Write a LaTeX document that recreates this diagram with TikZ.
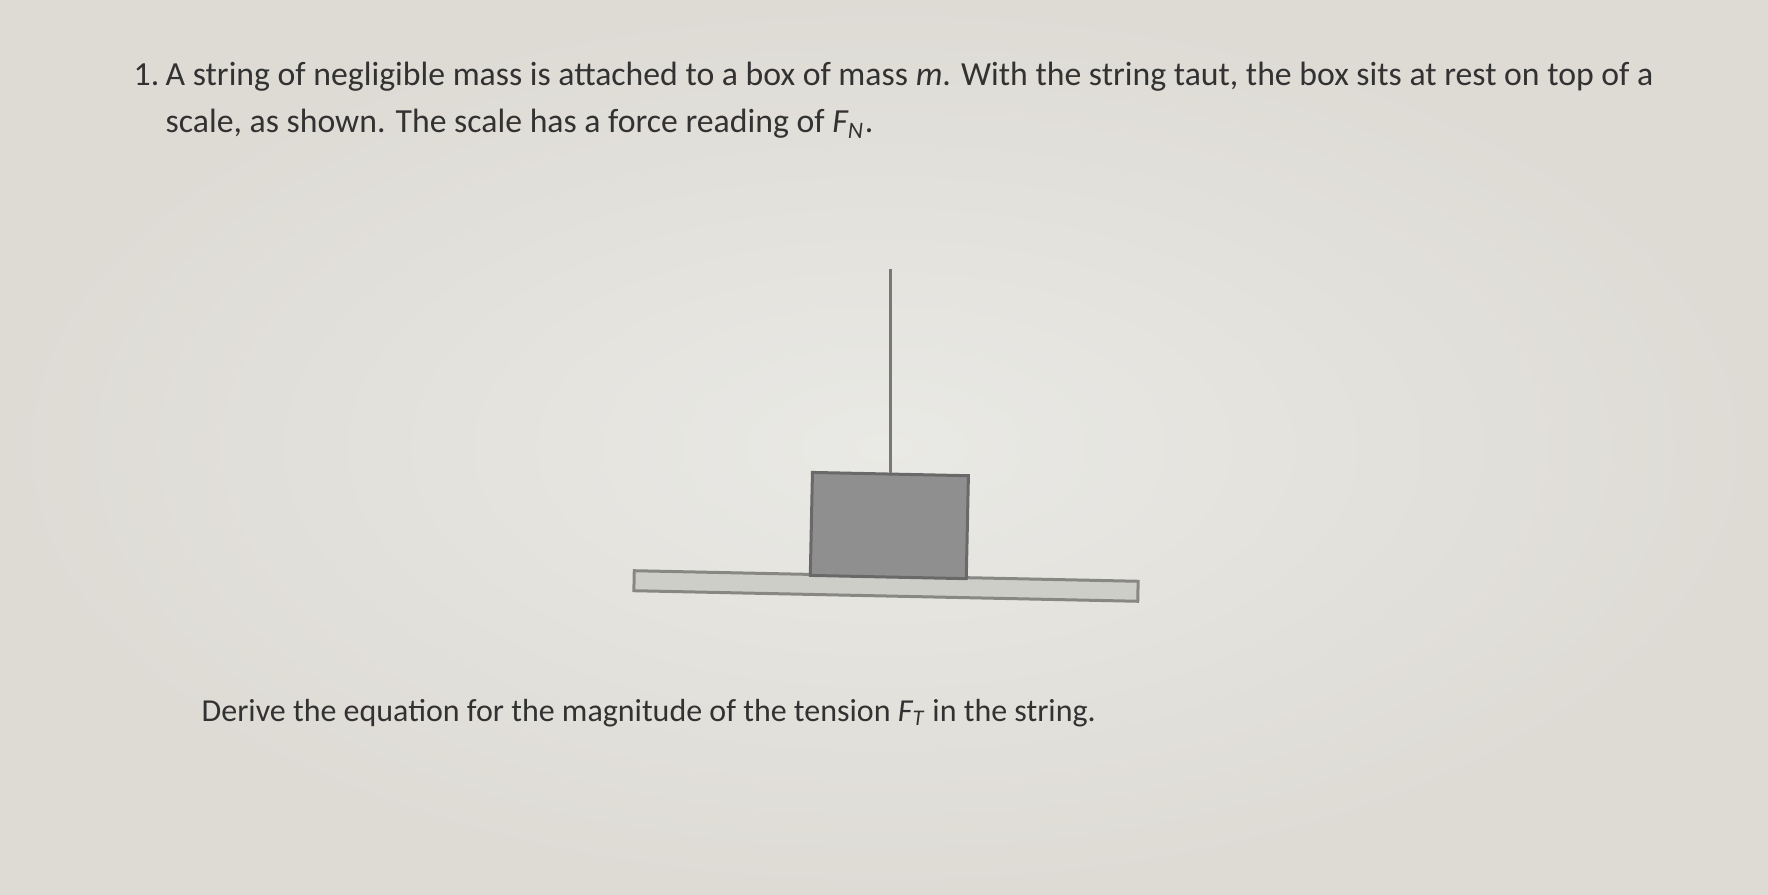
\documentclass[tikz,border=0pt]{standalone}
\usepackage{fontspec}
\setmainfont{Carlito}
\usetikzlibrary{positioning}

\definecolor{paper}{RGB}{233,233,229}
\definecolor{paperedge}{RGB}{222,219,213}
\definecolor{ink}{RGB}{50,50,50}
\definecolor{boxgrey}{RGB}{143,143,143}
\definecolor{boxedge}{RGB}{105,105,105}
\definecolor{scalegrey}{RGB}{206,206,201}
\definecolor{scaleedge}{RGB}{135,135,132}

\tikzset{
  textline/.style={anchor=base west, inner sep=0pt, text=ink, font=\fontsize{9.6}{11}\selectfont},
  massbox/.style={draw=boxedge, fill=boxgrey, line width=0.3mm, inner sep=0pt},
  scalebar/.style={draw=scaleedge, fill=scalegrey, line width=0.3mm, inner sep=0pt},
  stringline/.style={draw=boxedge!90, line width=0.3mm}
}

\begin{document}
\begin{tikzpicture}[x=0.1mm, y=-0.1mm]
                    \shade[inner color=paper, outer color=paperedge] (0,0) rectangle (1768,895);
                    \useasboundingbox (0,0) rectangle (1768,895);

                    % question text
                    \node[textline](qnum) at (133,86) {1.};
                    \node[textline](lineone) at (165,86) {A string of negligible mass is attached to a box of mass \textit{m}. With the string taut, the box sits at rest on top of a};
                    \node[textline](linetwo) at (165,133) {scale, as shown. The scale has a force reading of \textit{F\textsubscript{N}}.};
                    \node[textline, font=\fontsize{9.1}{11}\selectfont](linethree) at (201,722) {Derive the equation for the magnitude of the tension \textit{F\textsubscript{T}} in the string.};

                    % scale, box and string
                    \node[scalebar, minimum width=50.4mm, minimum height=2mm, rotate=-1.2](scale) at (886,586) {};
                    \node[massbox, minimum width=15.6mm, minimum height=10.3mm, rotate=-1.2, above=-0.4mm of scale, xshift=0.2mm](box){};
                    \coordinate[above=20.4mm of box.north](stringtop);
                    \draw[stringline] (box.north) -- (stringtop);
                \end{tikzpicture}
\end{document}
